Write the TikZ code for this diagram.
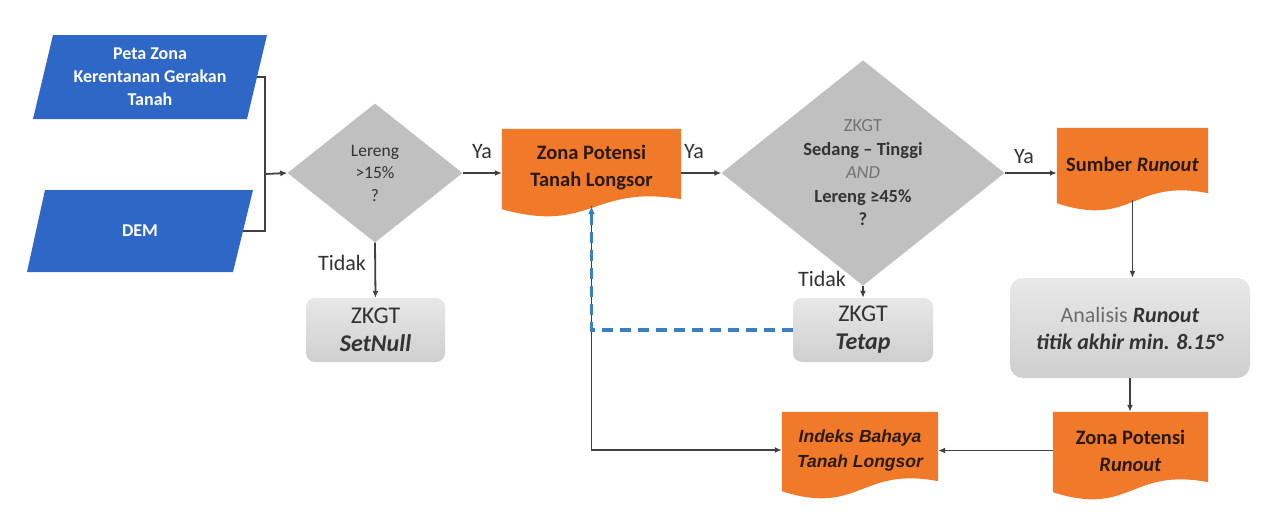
\documentclass[tikz,border=0pt]{standalone}
\usepackage{fontspec}
\setmainfont{Carlito}
\newfontfamily\arialf{Liberation Sans}
\usetikzlibrary{shapes.geometric,arrows.meta,calc,backgrounds}
\definecolor{orangefill}{HTML}{F07A2A}
\definecolor{bluefill}{HTML}{2F67C6}
\definecolor{diagray}{HTML}{C0C0C0}
\definecolor{linegray}{HTML}{404040}
\definecolor{txtgray}{HTML}{333333}
\definecolor{dashblue}{HTML}{3A7FC0}
\definecolor{orangetxt}{HTML}{2A1A0E}
\newcommand\docfill[1]{%
  \fill[orangefill] (#1.north west) -- (#1.north east) -- ($(#1.south east)+(0,-7)$)
    .. controls ($(#1.south)+(0,-22)$) and ($(#1.south)+(0,28)$) .. ($(#1.south west)+(0,3)$) -- cycle;}
\begin{document}
\begin{tikzpicture}[x=1pt,y=-1pt,
  conn/.style={draw=linegray,line width=1.8pt},
  arr/.style={conn,-{Latex[length=7pt,width=6pt]}},
  docnode/.style={inner sep=0pt,align=center,text=orangetxt,font=\fontsize{20.5}{27}\selectfont\bfseries},
  parnode/.style={inner sep=0pt,align=center,text=white,font=\fontsize{18}{23}\selectfont\bfseries},
  dia/.style={diamond,fill=diagray,inner sep=0pt,align=center,text=txtgray},
  graybox/.style={rounded corners=9pt,top color=gray!18,bottom color=gray!38,inner sep=0pt,align=center,text=txtgray,font=\fontsize{24}{28}\selectfont},
  lbl/.style={text=txtgray,font=\fontsize{22}{24}\selectfont,inner sep=0pt}
]
\useasboundingbox (0,0) rectangle (1269,522);

% nodes
\node[parnode,minimum width=214pt,minimum height=84pt] (p1) at (150,77) {Peta Zona\\Kerentanan Gerakan\\Tanah};
\node[parnode,minimum width=206pt,minimum height=82pt] (p2) at (140,231) {DEM};
\node[dia,minimum width=175pt,minimum height=139pt,font=\fontsize{17.5}{22.5}\selectfont] (d1) at (375,173) {Lereng\\>15\%\\?};
\node[graybox,minimum width=139pt,minimum height=64pt] (setnull) at (375.5,330) {ZKGT\\\textbf{\textit{SetNull}}};
\node[docnode,minimum width=179pt,minimum height=77pt] (zptl) at (591.5,167.5) {Zona Potensi\\Tanah Longsor};
\node[dia,minimum width=283pt,minimum height=208pt,font=\fontsize{18.5}{23.5}\selectfont] (d2) at (863,173)
  {\textcolor{gray!90!black}{ZKGT}\\\textbf{Sedang – Tinggi}\\\textcolor{gray!90!black}{\textit{AND}}\\\textbf{Lereng ≥45\%}\\\textbf{?}};
\node[graybox,minimum width=140pt,minimum height=64pt] (tetap) at (863,330) {ZKGT\\\textbf{\textit{Tetap}}};
\node[docnode,minimum width=151pt,minimum height=72pt] (sumber) at (1132.5,164) {Sumber \textit{Runout}};
\node[graybox,rounded corners=13pt,minimum width=240pt,minimum height=100pt,font=\fontsize{22}{27}\selectfont] (anal) at (1130,328)
  {\textcolor{gray!85!black}{Analisis} \textbf{\textit{Runout}}\\\textbf{\textit{titik akhir min. 8.15°}}};
\node[docnode,minimum width=155pt,minimum height=77pt] (zpr) at (1130.5,450.5) {Zona Potensi\\\textit{Runout}};
\node[docnode,minimum width=156pt,minimum height=76pt,font=\arialf\fontsize{17.5}{25}\selectfont\bfseries\itshape] (ibtl) at (860,450) {Indeks Bahaya\\Tanah Longsor};

% labels
\node[lbl] (ya1) at (482,152) {Ya};
\node[lbl] (ya2) at (694,152) {Ya};
\node[lbl] (ya3) at (1024,157) {Ya};
\node[lbl] (td1) at (342,263) {Tidak};
\node[lbl] (td2) at (822,279) {Tidak};

% background shapes
\begin{scope}[on background layer]
  \fill[white] (0,0) rectangle (1269,522);
  \fill[bluefill] ($(p1)+(-97,-42)$) -- ($(p1)+(117,-42)$) -- ($(p1)+(97,42)$) -- ($(p1)+(-117,42)$) -- cycle;
  \fill[bluefill] ($(p2)+(-95,-41)$) -- ($(p2)+(113,-41)$) -- ($(p2)+(93,41)$) -- ($(p2)+(-113,41)$) -- cycle;
  \docfill{zptl}
  \docfill{sumber}
  \docfill{zpr}
  \docfill{ibtl}
\end{scope}

% connectors
\coordinate (mx) at (265,174);
\draw[conn] (p1.east) -- (p1.east -| mx) -- (p2.east -| mx) -- (p2.east);
\draw[arr] (mx) -- (d1.west);
\draw[arr] (d1.south) -- (setnull.north);
\draw[arr] (d1.east) -- (d1.east -| zptl.west);
\draw[arr] (d2.west -| zptl.east) -- (d2.west);
\draw[arr] (d2.east) -- (d2.east -| sumber.west);
\draw[arr] (d2.south) -- (tetap.north);
\draw[arr] (sumber.south) -- (sumber.south |- anal.north);
\draw[arr] (anal.south) -- (anal.south |- zpr.north);
\draw[arr] (zpr.west) -- (zpr.west -| ibtl.east);
\draw[arr] (zptl.south) |- (ibtl.west);
\draw[draw=dashblue,line width=3.4pt,dash pattern=on 11pt off 7pt,-{Latex[length=8pt,width=7pt]}] (tetap.west) -| (zptl.south);
\end{tikzpicture}
\end{document}
